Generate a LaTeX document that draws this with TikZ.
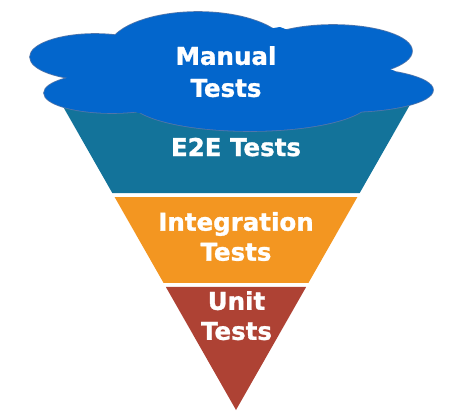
\documentclass[tikz,border=0pt]{standalone}
\usepackage{fontspec}
\setmainfont{DejaVu Sans}[BoldFeatures={FakeBold=1.2}]
\usetikzlibrary{calc}
\definecolor{cloudblue}{HTML}{0366CC}
\definecolor{cloudedge}{HTML}{5276AA}
\definecolor{e2eteal}{HTML}{13739A}
\definecolor{integorange}{HTML}{F39621}
\definecolor{unitred}{HTML}{AE4234}
\begin{document}
\begin{tikzpicture}[x=1pt,y=-1pt,
  bandtext/.style={text=white, font=\bfseries\fontsize{24.5}{30}\selectfont,
    align=center, inner sep=0pt}]
\useasboundingbox (0,0) rectangle (451,418);
% funnel outline: top corners and apex
\coordinate (apex) at (236,410);
\coordinate (tl) at (59.3,100);
\coordinate (tr) at (412.7,100);
% the three bands, separated by thin white gaps
\fill[e2eteal] (tl) -- (tr) -- ($(apex)!0.700!(tr)$) -- ($(apex)!0.700!(tl)$) -- cycle;
\fill[integorange] ($(apex)!0.687!(tl)$) -- ($(apex)!0.687!(tr)$)
  -- ($(apex)!0.410!(tr)$) -- ($(apex)!0.410!(tl)$) -- cycle;
\fill[unitred] ($(apex)!0.397!(tl)$) -- ($(apex)!0.397!(tr)$) -- (apex) -- cycle;
% cloud: union of lobes, outlines first, then the fill hides inner edges
\def\lobes{198/50/90/38, 95/57/65/23, 112/93/68/20, 250/100/120/31, 345/90/88/22, 333/51/79/26}
\foreach \cx/\cy/\rx/\ry in \lobes
  \draw[cloudedge, line width=1.6pt] (\cx,\cy) ellipse [x radius=\rx pt, y radius=\ry pt];
\foreach \cx/\cy/\rx/\ry in \lobes
  \fill[cloudblue] (\cx,\cy) ellipse [x radius=\rx pt, y radius=\ry pt];
\fill[cloudblue] (113,35) -- (200,40) -- (280,27) -- (395,71) -- (360,112)
  -- (250,100) -- (138,113) -- (72,77) -- cycle;
% labels
\node[bandtext, font=\bfseries\fontsize{24.5}{32}\selectfont] (manual) at (226,71.7) {Manual\\Tests};
\node[bandtext, anchor=base] (e2e) at (236,156) {E2E Tests};
\node[bandtext] (integration) at (236,236.5) {Integration\\Tests};
\node[bandtext] (unit) at (236.5,315.7) {Unit\\Tests};
\end{tikzpicture}
\end{document}
